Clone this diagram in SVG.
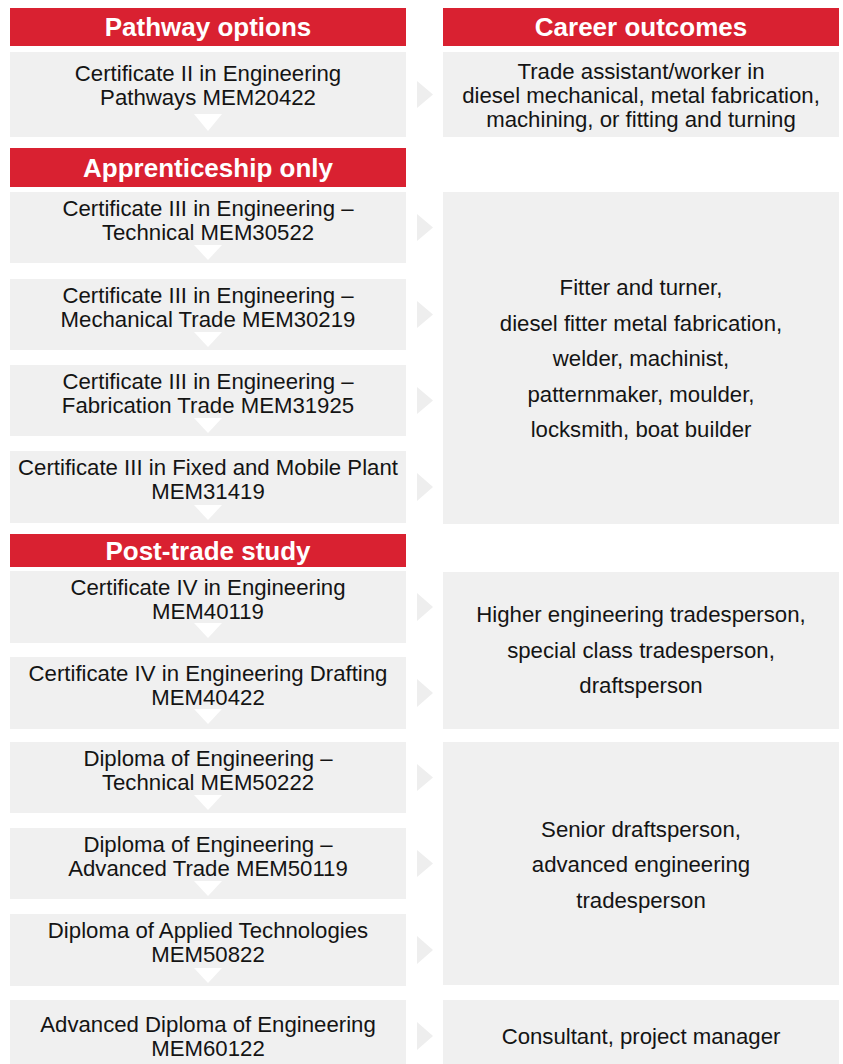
<svg xmlns="http://www.w3.org/2000/svg" width="843" height="1064" viewBox="0 0 843 1064">
<style>
.hdr{fill:#d92131}
.box{fill:#f0f0f0}
.ht{font-family:"Liberation Sans",Arial,sans-serif;font-weight:bold;font-size:26px;fill:#fff;text-anchor:middle}
.t{font-family:"Liberation Sans",Arial,sans-serif;font-size:22.2px;fill:#141414;text-anchor:middle}
.arr{fill:#eeeeee}
.dn{fill:#ffffff}
</style>
<rect width="843" height="1064" fill="#fff"/>
<g id="hdr-pathway"><rect class="hdr" x="10" y="8" width="396" height="38"/><text class="ht" x="208" y="36">Pathway options</text></g>
<g id="hdr-career"><rect class="hdr" x="443" y="8" width="396" height="38"/><text class="ht" x="641" y="36">Career outcomes</text></g>
<g id="hdr-apprentice"><rect class="hdr" x="10" y="148" width="396" height="39"/><text class="ht" x="208" y="177">Apprenticeship only</text></g>
<g id="hdr-posttrade"><rect class="hdr" x="10" y="534" width="396" height="33"/><text class="ht" x="208" y="560">Post-trade study</text></g>

<g id="p1"><rect class="box" x="10" y="52" width="396" height="85"/><text class="t" x="208" y="81">Certificate II in Engineering</text><text class="t" x="208" y="105">Pathways MEM20422</text></g>
<g id="p2"><rect class="box" x="10" y="192" width="396" height="71"/><text class="t" x="208" y="216">Certificate III in Engineering –</text><text class="t" x="208" y="240">Technical MEM30522</text></g>
<g id="p3"><rect class="box" x="10" y="279" width="396" height="71"/><text class="t" x="208" y="303">Certificate III in Engineering –</text><text class="t" x="208" y="327">Mechanical Trade MEM30219</text></g>
<g id="p4"><rect class="box" x="10" y="365" width="396" height="71"/><text class="t" x="208" y="389">Certificate III in Engineering –</text><text class="t" x="208" y="413">Fabrication Trade MEM31925</text></g>
<g id="p5"><rect class="box" x="10" y="451" width="396" height="72"/><text class="t" x="208" y="475">Certificate III in Fixed and Mobile Plant</text><text class="t" x="208" y="499">MEM31419</text></g>
<g id="p6"><rect class="box" x="10" y="571" width="396" height="72"/><text class="t" x="208" y="595">Certificate IV in Engineering</text><text class="t" x="208" y="619">MEM40119</text></g>
<g id="p7"><rect class="box" x="10" y="657" width="396" height="72"/><text class="t" x="208" y="681">Certificate IV in Engineering Drafting</text><text class="t" x="208" y="705">MEM40422</text></g>
<g id="p8"><rect class="box" x="10" y="742" width="396" height="71"/><text class="t" x="208" y="766">Diploma of Engineering –</text><text class="t" x="208" y="790">Technical MEM50222</text></g>
<g id="p9"><rect class="box" x="10" y="828" width="396" height="71"/><text class="t" x="208" y="852">Diploma of Engineering –</text><text class="t" x="208" y="876">Advanced Trade MEM50119</text></g>
<g id="p10"><rect class="box" x="10" y="914" width="396" height="72"/><text class="t" x="208" y="938">Diploma of Applied Technologies</text><text class="t" x="208" y="962">MEM50822</text></g>
<g id="p11"><rect class="box" x="10" y="1000" width="396" height="64"/><text class="t" x="208" y="1032">Advanced Diploma of Engineering</text><text class="t" x="208" y="1056">MEM60122</text></g>

<g id="c1"><rect class="box" x="443" y="52" width="396" height="85"/><text class="t" x="641" y="79">Trade assistant/worker in</text><text class="t" x="641" y="103">diesel mechanical, metal fabrication,</text><text class="t" x="641" y="127">machining, or fitting and turning</text></g>
<g id="c2"><rect class="box" x="443" y="192" width="396" height="332"/><text class="t" x="641" y="295">Fitter and turner,</text><text class="t" x="641" y="330.5">diesel fitter metal fabrication,</text><text class="t" x="641" y="366">welder, machinist,</text><text class="t" x="641" y="401.5">patternmaker, moulder,</text><text class="t" x="641" y="437">locksmith, boat builder</text></g>
<g id="c3"><rect class="box" x="443" y="572" width="396" height="157"/><text class="t" x="641" y="622">Higher engineering tradesperson,</text><text class="t" x="641" y="657.5">special class tradesperson,</text><text class="t" x="641" y="693">draftsperson</text></g>
<g id="c4"><rect class="box" x="443" y="742" width="396" height="243"/><text class="t" x="641" y="837">Senior draftsperson,</text><text class="t" x="641" y="872">advanced engineering</text><text class="t" x="641" y="908">tradesperson</text></g>
<g id="c5"><rect class="box" x="443" y="1000" width="396" height="64"/><text class="t" x="641" y="1044">Consultant, project manager</text></g>

<g id="connectors">
<polygon class="arr" points="417,81 433,94.5 417,108"/>
<polygon class="arr" points="417,214 433,227.5 417,241"/>
<polygon class="arr" points="417,301 433,314.5 417,328"/>
<polygon class="arr" points="417,387 433,400.5 417,414"/>
<polygon class="arr" points="417,473 433,487 417,501"/>
<polygon class="arr" points="417,593 433,607 417,621"/>
<polygon class="arr" points="417,679 433,693 417,707"/>
<polygon class="arr" points="417,764 433,777.5 417,791"/>
<polygon class="arr" points="417,850 433,863.5 417,877"/>
<polygon class="arr" points="417,936 433,950 417,964"/>
<polygon class="arr" points="417,1022 433,1036 417,1050"/>
<polygon class="dn" points="194,114 222,114 208,131"/>
<polygon class="dn" points="194,245 222,245 208,260"/>
<polygon class="dn" points="194,332 222,332 208,347"/>
<polygon class="dn" points="194,418 222,418 208,433"/>
<polygon class="dn" points="194,505 222,505 208,520"/>
<polygon class="dn" points="194,623 222,623 208,638"/>
<polygon class="dn" points="194,709 222,709 208,724"/>
<polygon class="dn" points="194,795 222,795 208,810"/>
<polygon class="dn" points="194,881 222,881 208,896"/>
<polygon class="dn" points="194,968 222,968 208,983"/>
</g>
</svg>
